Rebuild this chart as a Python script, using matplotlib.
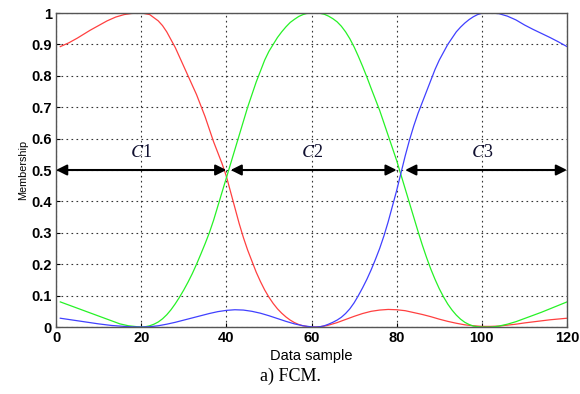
import matplotlib
matplotlib.use("Agg")
import matplotlib.pyplot as plt

plt.rcParams["mathtext.fontset"] = "stix"

# ---- data ----
red_x = [1, 3, 5, 8, 10, 12, 14, 16, 18, 20, 22, 23, 24, 25, 26, 27, 28, 29, 30, 31, 32, 33, 34,
         35, 36, 37, 38, 39, 40, 41, 42, 43, 44, 45, 46, 47, 48, 49, 50, 51, 52, 53, 54, 55, 56,
         57, 58, 59, 60, 61, 62, 63, 64, 66, 68, 70, 72, 74, 76, 78, 80, 82, 84, 86, 88, 90,
         92, 94, 96, 98, 100, 102, 104, 106, 108, 110, 113, 116, 120]
red_y = [0.893, 0.905, 0.92, 0.945, 0.96, 0.975, 0.987, 0.995, 0.999, 1.0, 0.995, 0.985, 0.975,
         0.96, 0.94, 0.915, 0.89, 0.86, 0.83, 0.80, 0.77, 0.74, 0.705, 0.67, 0.63, 0.59, 0.555,
         0.52, 0.48, 0.43, 0.38, 0.33, 0.285, 0.245, 0.21, 0.175, 0.145, 0.118, 0.095, 0.075,
         0.058, 0.044, 0.032, 0.022, 0.014, 0.008, 0.004, 0.0015, 0.0, 0.0, 0.001, 0.003, 0.006,
         0.014, 0.024, 0.034, 0.043, 0.05, 0.054, 0.056, 0.055, 0.052, 0.046, 0.04, 0.033,
         0.025, 0.018, 0.012, 0.007, 0.004, 0.002, 0.002, 0.003, 0.006, 0.009, 0.013, 0.018,
         0.023, 0.028]

green_x = [1, 3, 5, 7, 9, 11, 13, 15, 17, 19, 20, 21, 22, 23, 24, 25, 26, 27, 28, 29, 30, 31,
           32, 33, 34, 35, 36, 37, 38, 39, 40, 41, 42, 43, 44, 45, 46, 47, 48, 49, 50, 51, 52,
           53, 54, 55, 56, 57, 58, 59, 60, 61, 62, 63, 64, 65, 66, 67, 68, 69, 70, 71, 72, 73,
           74, 75, 76, 77, 78, 79, 80, 81, 82, 83, 84, 85, 86, 87, 88, 89, 90, 91, 92, 93, 94,
           95, 96, 97, 98, 99, 100, 102, 103, 104, 106, 108, 110, 112, 114, 116, 118, 120]
green_y = [0.08, 0.07, 0.06, 0.05, 0.04, 0.03, 0.02, 0.01, 0.004, 0.001, 0.0, 0.001, 0.004,
           0.009, 0.016, 0.026, 0.039, 0.055, 0.074, 0.095, 0.118, 0.143, 0.17, 0.2, 0.232,
           0.265, 0.30, 0.34, 0.385, 0.43, 0.475, 0.52, 0.565, 0.61, 0.655, 0.70, 0.74, 0.78,
           0.815, 0.85, 0.878, 0.90, 0.922, 0.94, 0.956, 0.97, 0.98, 0.989, 0.995, 0.999, 1.0,
           1.0, 0.999, 0.996, 0.99, 0.982, 0.972, 0.958, 0.94, 0.918, 0.892, 0.862, 0.83,
           0.796, 0.76, 0.725, 0.69, 0.65, 0.61, 0.57, 0.53, 0.485, 0.44, 0.395, 0.35, 0.305,
           0.262, 0.222, 0.185, 0.152, 0.122, 0.096, 0.073, 0.054, 0.038, 0.025, 0.015, 0.008,
           0.003, 0.001, 0.0, 0.0, 0.001, 0.003, 0.009, 0.017, 0.027, 0.037, 0.047, 0.058,
           0.069, 0.08]

blue_x = [1, 4, 7, 10, 13, 16, 18, 20, 22, 24, 26, 28, 30, 32, 34, 36, 38, 40, 42, 44, 46, 48,
          50, 52, 54, 56, 58, 60, 61, 62, 63, 64, 65, 66, 67, 68, 69, 70, 71, 72, 73, 74, 75,
          76, 77, 78, 79, 80, 81, 82, 83, 84, 85, 86, 87, 88, 89, 90, 91, 92, 93, 94, 95, 96,
          97, 98, 99, 100, 102, 104, 106, 108, 110, 112, 114, 116, 118, 120]
blue_y = [0.028, 0.022, 0.016, 0.01, 0.005, 0.002, 0.0005, 0.0, 0.001, 0.004, 0.009, 0.015,
          0.022, 0.029, 0.036, 0.043, 0.049, 0.053, 0.055, 0.054, 0.05, 0.044, 0.036, 0.027,
          0.018, 0.01, 0.004, 0.0005, 0.0, 0.001, 0.004, 0.009, 0.015, 0.022, 0.031, 0.043,
          0.058, 0.077, 0.1, 0.125, 0.152, 0.182, 0.215, 0.25, 0.29, 0.335, 0.385, 0.435, 0.49,
          0.545, 0.595, 0.64, 0.68, 0.715, 0.75, 0.785, 0.82, 0.85, 0.875, 0.9, 0.92, 0.94,
          0.955, 0.968, 0.979, 0.988, 0.995, 0.999, 1.0, 0.998, 0.99, 0.978, 0.962, 0.948,
          0.935, 0.922, 0.908, 0.893]

# cluster ranges shown by arrows at membership 0.5
arrow_ranges = [(0, 40), (41, 80), (82, 120)]
cluster_labels = ["1", "2", "3"]
cluster_centers = [20, 60, 100]

x_ticks = [0, 20, 40, 60, 80, 100, 120]
y_ticks = [0, 0.1, 0.2, 0.3, 0.4, 0.5, 0.6, 0.7, 0.8, 0.9, 1]
y_tick_labels = ["0", "0.1", "0.2", "0.3", "0.4", "0.5", "0.6", "0.7", "0.8", "0.9", "1"]

# ---- figure ----
fig = plt.figure(figsize=(5.8, 3.94), dpi=100)
ax = fig.add_axes([0.0966, 0.170, 0.881, 0.797])

ax.plot(red_x, red_y, color=(1.0, 0.25, 0.25), lw=0.9)
ax.plot(green_x, green_y, color=(0.15, 0.95, 0.15), lw=0.9)
ax.plot(blue_x, blue_y, color=(0.25, 0.25, 1.0), lw=0.9)

for (a, b) in arrow_ranges:
    ax.annotate("", xy=(b, 0.5), xytext=(a, 0.5),
                arrowprops=dict(arrowstyle="<|-|>", color="black", lw=1.5,
                                mutation_scale=16, shrinkA=0, shrinkB=0),
                annotation_clip=False)

for c, lab in zip(cluster_centers, cluster_labels):
    ax.text(c, 0.53, r"$C$" + lab, ha="center", va="bottom",
            fontsize=13, family="Liberation Serif", color="#101030")

ax.set_xlim(0, 120)
ax.set_ylim(0, 1)
ax.set_xticks(x_ticks)
ax.set_yticks(y_ticks)
ax.set_yticklabels(y_tick_labels)
ax.grid(True, linestyle=(0, (1.5, 3)), color="#333333", lw=0.8)
ax.tick_params(direction="in", length=3, width=0.8, labelsize=10.5, pad=3)
for lab in ax.get_xticklabels() + ax.get_yticklabels():
    lab.set_fontweight("bold")
    lab.set_family("Liberation Sans")
for s in ax.spines.values():
    s.set_color("#555555")
    s.set_linewidth(1.0)

ax.set_xlabel("Data sample", fontsize=10.5, family="Liberation Sans", labelpad=3)
ax.set_ylabel("Membership", fontsize=7.8, family="Liberation Sans", labelpad=2)

fig.text(0.5, 0.022, "a) FCM.", ha="center", va="bottom", fontsize=13,
         family="Liberation Serif")

fig.savefig("out.png", dpi=100)
